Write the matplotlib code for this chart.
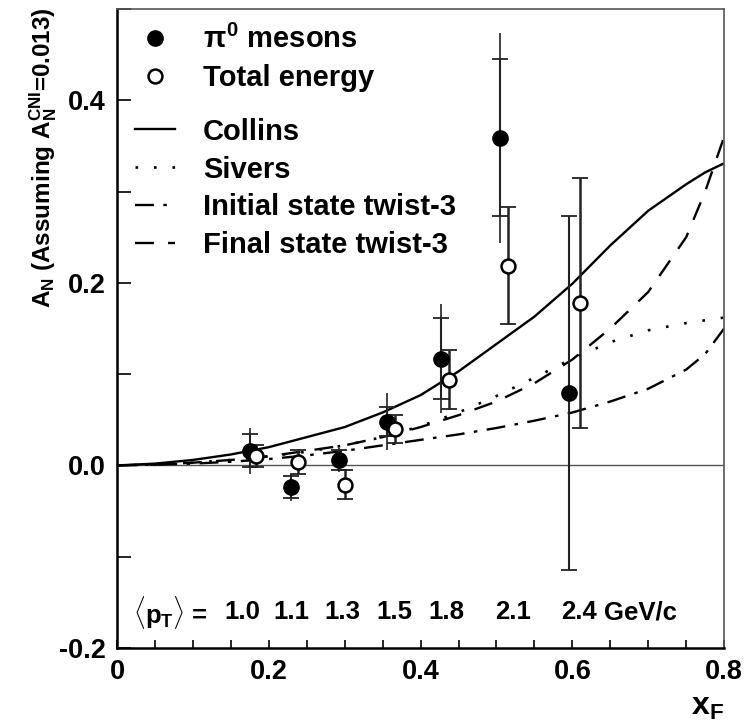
import matplotlib
matplotlib.use("Agg")
import matplotlib.pyplot as plt
from matplotlib.lines import Line2D
from matplotlib.ticker import MultipleLocator

plt.rcParams['font.family'] = ['Liberation Sans', 'DejaVu Sans']
plt.rcParams['font.weight'] = 'bold'
plt.rcParams['axes.labelweight'] = 'bold'
plt.rcParams['mathtext.fontset'] = 'custom'
plt.rcParams['mathtext.rm'] = 'Liberation Sans:bold'
plt.rcParams['mathtext.it'] = 'Liberation Sans:bold'
plt.rcParams['mathtext.bf'] = 'Liberation Sans:bold'

# ---- data: pi0 mesons (filled) ----
pi0_x = [0.175, 0.229, 0.292, 0.356, 0.427, 0.505, 0.596]
pi0_y = [0.016, -0.024, 0.006, 0.048, 0.117, 0.359, 0.079]
pi0_stat = [0.018, 0.012, 0.011, 0.016, 0.044, 0.086, 0.194]
pi0_tot = [0.025, 0.015, 0.013, 0.031, 0.060, 0.115, 0.194]

# ---- data: total energy (open) ----
te_x = [0.183, 0.239, 0.301, 0.366, 0.438, 0.515, 0.610]
te_y = [0.010, 0.004, -0.021, 0.040, 0.094, 0.219, 0.178]
te_err = [0.012, 0.013, 0.016, 0.015, 0.032, 0.064, 0.137]

# ---- model curves ----
curve_x = [0.0, 0.05, 0.1, 0.15, 0.2, 0.25, 0.3, 0.35, 0.4, 0.45, 0.5,
           0.55, 0.6, 0.65, 0.7, 0.75, 0.775, 0.8]
collins = [0.0, 0.002, 0.006, 0.012, 0.020, 0.031, 0.042, 0.058, 0.077, 0.103,
           0.133, 0.163, 0.199, 0.241, 0.279, 0.308, 0.321, 0.331]
sivers = [0.0, 0.001, 0.003, 0.006, 0.010, 0.015, 0.022, 0.031, 0.043, 0.058,
          0.076, 0.096, 0.117, 0.135, 0.148, 0.156, 0.159, 0.162]
initial_tw3 = [0.0, 0.001, 0.002, 0.004, 0.007, 0.011, 0.016, 0.022, 0.028, 0.034,
               0.041, 0.049, 0.058, 0.070, 0.084, 0.105, 0.122, 0.150]
final_tw3 = [0.0, 0.001, 0.003, 0.006, 0.010, 0.016, 0.022, 0.031, 0.042, 0.055,
             0.070, 0.090, 0.116, 0.150, 0.190, 0.250, 0.300, 0.360]

pt_x = [0.165, 0.230, 0.297, 0.366, 0.434, 0.522, 0.609]
pt_labels = ['1.0', '1.1', '1.3', '1.5', '1.8', '2.1', '2.4']

xtick_vals = [0.0, 0.2, 0.4, 0.6, 0.8]
xtick_labels = ['0', '0.2', '0.4', '0.6', '0.8']
ytick_vals = [-0.2, 0.0, 0.2, 0.4]
ytick_labels = ['-0.2', '0.0', '0.2', '0.4']

fig = plt.figure(figsize=(7.45, 7.23), dpi=100)
fig.patch.set_facecolor('white')
ax = fig.add_axes([0.157, 0.1037, 0.815, 0.8839])
ax.set_xlim(0, 0.8)
ax.set_ylim(-0.2, 0.5)

ax.axhline(0, color='#555555', lw=1.0, zorder=1)

# curves
ax.plot(curve_x, collins, color='black', lw=1.7, ls='-', zorder=2)
ax.plot(curve_x, sivers, color='black', lw=1.9, ls=(0, (1, 6)), zorder=2)
ax.plot(curve_x, initial_tw3, color='black', lw=1.7, ls=(0, (8, 4, 1.5, 4)), zorder=2)
ax.plot(curve_x, final_tw3, color='black', lw=1.7, ls=(0, (8, 6)), zorder=2)

# total error lines (no caps), stat error with caps
ax.errorbar(pi0_x, pi0_y, yerr=pi0_tot, fmt='none', ecolor='#333333',
            elinewidth=1.3, capsize=0, zorder=3)
ax.errorbar(pi0_x, pi0_y, yerr=pi0_stat, fmt='none', ecolor='#222222',
            elinewidth=1.5, capsize=6, capthick=1.3, zorder=3)
ax.errorbar(te_x, te_y, yerr=te_err, fmt='none', ecolor='#222222',
            elinewidth=1.8, capsize=6, capthick=1.3, zorder=3)
ax.plot(pi0_x, pi0_y, 'o', color='black', ms=11, zorder=5, ls='none')
ax.plot(te_x, te_y, 'o', mfc='white', mec='black', mew=1.8, ms=10, zorder=5, ls='none')

# <pT> annotation
ax.text(0.071, -0.161, r'$\langle p_T\rangle$ =', ha='center', va='center', fontsize=18.5)
for xp, lab in zip(pt_x, pt_labels):
    ax.text(xp, -0.161, lab, ha='center', va='center', fontsize=18.5)
ax.text(0.69, -0.161, 'GeV/c', ha='center', va='center', fontsize=18.5)

# ticks
ax.set_xticks(xtick_vals)
ax.set_xticklabels(xtick_labels)
ax.set_yticks(ytick_vals)
ax.set_yticklabels(ytick_labels)
ax.xaxis.set_minor_locator(MultipleLocator(0.05))
ax.yaxis.set_minor_locator(MultipleLocator(0.1))
ax.tick_params(axis='x', which='both', direction='in', top=False, length=6, width=1.2,
               labelsize=19.5, pad=8)
ax.tick_params(axis='y', which='both', direction='in', right=False, length=10, width=1.2,
               labelsize=19.5, pad=8)

for s in ['left', 'bottom']:
    ax.spines[s].set_linewidth(1.8)
    ax.spines[s].set_color('black')
for s in ['top', 'right']:
    ax.spines[s].set_linewidth(1.2)
    ax.spines[s].set_color('#555555')

ax.set_xlabel(r'$\mathbf{x_F}$', fontsize=23, loc='right', labelpad=5)
ax.set_ylabel(r'A$_N$ (Assuming A$_N^{CNI}$=0.013)', fontsize=17.5, fontweight='bold')
ax.yaxis.set_label_coords(-0.095, 0.767)

# legends
fs_leg = 21
h1 = [Line2D([], [], marker='o', color='black', ls='none', ms=11),
      Line2D([], [], marker='o', mfc='white', mec='black', mew=1.8, ls='none', ms=10)]
leg1 = ax.legend(h1, [r'$\pi^0$ mesons', 'Total energy'], loc='upper left',
                 bbox_to_anchor=(0.03, 0.975), frameon=False, fontsize=fs_leg,
                 handlelength=1.37, handletextpad=0.95, labelspacing=0.34,
                 borderpad=0, borderaxespad=0)
ax.add_artist(leg1)
h2 = [Line2D([], [], color='black', lw=1.7, ls='-'),
      Line2D([], [], color='black', lw=1.9, ls=(0, (1, 6))),
      Line2D([], [], color='black', lw=1.7, ls=(0, (8, 4, 1.5, 4))),
      Line2D([], [], color='black', lw=1.7, ls=(0, (8, 6)))]
ax.legend(h2, ['Collins', 'Sivers', 'Initial state twist-3', 'Final state twist-3'],
          loc='upper left', bbox_to_anchor=(0.03, 0.83), frameon=False, fontsize=fs_leg,
          handlelength=1.37, handletextpad=0.95, labelspacing=0.34,
          borderpad=0, borderaxespad=0)

fig.savefig('out.png', dpi=100)
